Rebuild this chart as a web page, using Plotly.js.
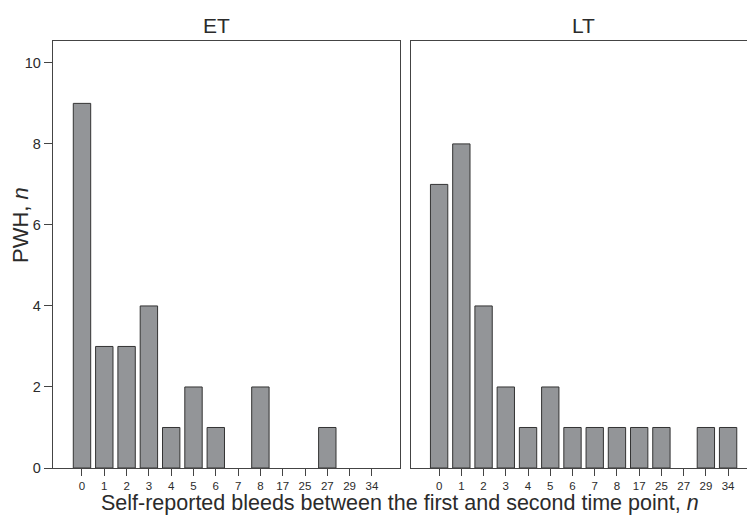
<!DOCTYPE html>
<html>
<head>
<meta charset="utf-8">
<script src="https://cdn.plot.ly/plotly-3.0.1.min.js"></script>
<style>html,body{margin:0;padding:0;background:#fff;}#chart{width:747px;height:515px;}</style>
</head>
<body>
<div id="chart"></div>
<script>
var categories = ["0","1","2","3","4","5","6","7","8","17","25","27","29","34"];
var etCounts = [9,3,3,4,1,2,1,0,2,0,0,1,0,0];
var ltCounts = [7,8,4,2,1,2,1,1,1,1,1,0,1,1];
var panelTitles = ["ET","LT"];
var yTitle = "PWH, <i>n</i>";
var xTitle = "Self-reported bleeds between the first and second time point, <i>n</i>";

function barMarker(vals){
  return {color:"#939598", line:{color:"#333333", width:vals.map(function(v){return v>0?1:0;})}};
}
var traces = [
  {type:"bar", x:categories, y:etCounts, xaxis:"x", yaxis:"y", width:0.78, marker:barMarker(etCounts)},
  {type:"bar", x:categories, y:ltCounts, xaxis:"x2", yaxis:"y2", width:0.78, marker:barMarker(ltCounts)}
];
var font = "Liberation Sans, Arial, sans-serif";
var txt = "#2b2b2b";
var xBase = {type:"category", categoryorder:"array", categoryarray:categories,
  showline:true, linecolor:"#444", linewidth:1.3, ticks:"outside", ticklen:7, tickcolor:"#444",
  tickfont:{family:font, size:11.5, color:txt}, showgrid:false, zeroline:false, fixedrange:true};
var layout = {
  width:747, height:515,
  margin:{l:53, r:0, t:41, b:47},
  paper_bgcolor:"#fff", plot_bgcolor:"#fff",
  showlegend:false,
  font:{family:font, color:txt},
  xaxis:Object.assign({}, xBase, {domain:[0,0.5], range:[-1.3,14.26], mirror:true, anchor:"y"}),
  xaxis2:Object.assign({}, xBase, {domain:[0.516,1], range:[-1.26,13.85], mirror:true, anchor:"y2"}),
  yaxis:{range:[0,10.54], dtick:2, tick0:0, showline:true, linecolor:"#444", linewidth:1.3, mirror:true,
    ticks:"outside", ticklen:8, tickcolor:"#444", showgrid:false, zeroline:false,
    tickfont:{family:font, size:14.5, color:txt}, anchor:"x"},
  yaxis2:{range:[0,10.54], showline:true, linecolor:"#444", linewidth:1.3, mirror:false,
    ticks:"", showticklabels:false, showgrid:false, zeroline:false, anchor:"x2"},
  annotations:[
    {text:panelTitles[0], xref:"paper", yref:"paper", x:0.235, y:1, yshift:16, showarrow:false,
      xanchor:"center", yanchor:"middle", font:{family:font, size:21, color:txt}},
    {text:panelTitles[1], xref:"paper", yref:"paper", x:0.765, y:1, yshift:16, showarrow:false,
      xanchor:"center", yanchor:"middle", font:{family:font, size:21, color:txt}},
    {text:xTitle, xref:"paper", yref:"paper", x:0.5, y:0, yshift:-34.5, showarrow:false,
      xanchor:"center", yanchor:"middle", font:{family:font, size:21.5, color:txt}},
    {text:yTitle, xref:"paper", yref:"paper", x:-0.0476, y:0.569, textangle:-90, showarrow:false,
      xanchor:"center", yanchor:"middle", font:{family:font, size:22, color:txt}}
  ]
};
Plotly.newPlot("chart", traces, layout, {displayModeBar:false, staticPlot:true});
</script>
</body>
</html>
